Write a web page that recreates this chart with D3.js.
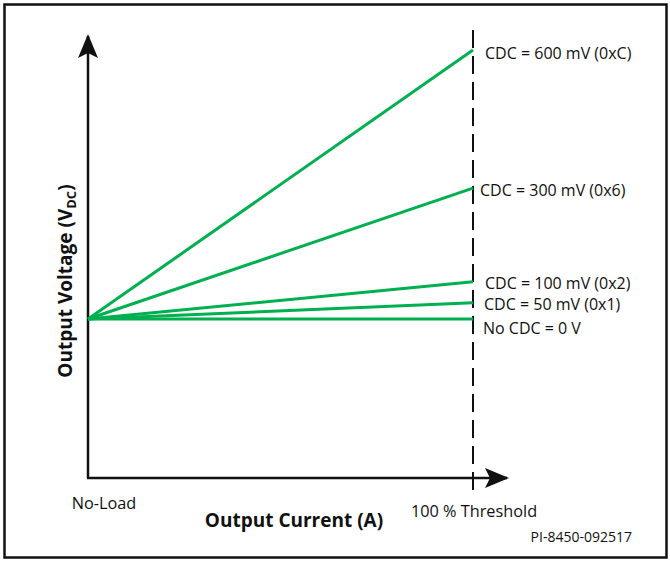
<!DOCTYPE html>
<meta charset="utf-8">
<title>CDC output voltage vs output current</title>
<script src="https://d3js.org/d3.v7.min.js"></script>
<style>
  body { margin: 0; background: #fff; }
  text { font-family: "Open Sans", "Noto Sans", sans-serif; fill: #111; }
</style>
<body>
<svg class="chart"></svg>
<script>

var width = 670;
var height = 561;

// series: CDC label, setting in mV, rise of the line at 100 % load (mV scale)
var cdcLabels = ["CDC = 600 mV (0xC)", "CDC = 300 mV (0x6)", "CDC = 100 mV (0x2)", "CDC = 50 mV (0x1)", "No CDC = 0 V"];
var cdcSetting = [600, 300, 100, 50, 0];
var cdcRise = [600, 292, 83, 36, 0];
var loadPoints = [0, 100];           // % of threshold
var xTickLabels = ["No-Load", "100 % Threshold"];

var svg = d3.select(".chart")
  .attr("width", width)
  .attr("height", height);

// frame
svg.append("rect")
  .attr("x", 4.5).attr("y", 4.5)
  .attr("width", 662).attr("height", 553)
  .attr("fill", "none")
  .attr("stroke", "#111")
  .attr("stroke-width", 2.5);

var x = d3.scaleLinear().domain([0, 100]).range([88, 473]);
var y = d3.scaleLinear().domain([0, 600]).range([319, 50]);

var axisY = 478;
var defs = svg.append("defs");
defs.append("marker")
  .attr("id", "arrow")
  .attr("viewBox", "0 0 24 20")
  .attr("refX", 22).attr("refY", 10)
  .attr("markerWidth", 24).attr("markerHeight", 20)
  .attr("markerUnits", "userSpaceOnUse")
  .attr("orient", "auto")
  .append("path")
    .attr("d", "M0,0 L24,10 L0,20 L5,10 Z")
    .attr("fill", "#111");

// axes
svg.append("line")
  .attr("x1", x(0)).attr("y1", axisY)
  .attr("x2", x(0)).attr("y2", 36)
  .attr("stroke", "#111").attr("stroke-width", 2.5)
  .attr("marker-end", "url(#arrow)");
svg.append("line")
  .attr("x1", x(0) - 1).attr("y1", axisY)
  .attr("x2", 507).attr("y2", axisY)
  .attr("stroke", "#111").attr("stroke-width", 2.5)
  .attr("marker-end", "url(#arrow)");

// threshold line
svg.append("line")
  .attr("x1", x(100)).attr("y1", 30)
  .attr("x2", x(100)).attr("y2", 496)
  .attr("stroke", "#111").attr("stroke-width", 2)
  .attr("stroke-dasharray", "18,8");

// CDC lines
var line = d3.line()
  .x(function(d) { return x(d[0]); })
  .y(function(d) { return y(d[1]); });

svg.selectAll(".cdc")
  .data(cdcRise)
  .enter().append("path")
    .attr("class", "cdc")
    .attr("d", function(r) { return line(loadPoints.map(function(p) { return [p, r * p / 100]; })); })
    .attr("fill", "none")
    .attr("stroke", "#00b050")
    .attr("stroke-width", 3);

// CDC labels
var labelDx = [12, 7, 12, 11, 10];
var labelDy = [9, 8, 7, 7, 15];
svg.selectAll(".cdc-label")
  .data(cdcLabels)
  .enter().append("text")
    .attr("class", "cdc-label")
    .attr("x", function(d, i) { return x(100) + labelDx[i]; })
    .attr("y", function(d, i) { return y(cdcRise[i]) + labelDy[i]; })
    .style("font-size", "16px")
    .text(function(d) { return d; });

// x tick labels
svg.selectAll(".xtick")
  .data(xTickLabels)
  .enter().append("text")
    .attr("class", "xtick")
    .attr("x", function(d, i) { return x(loadPoints[i]) + (i == 0 ? 16 : 1); })
    .attr("y", function(d, i) { return i == 0 ? 509 : 517; })
    .attr("text-anchor", "middle")
    .style("font-size", "16.3px")
    .text(function(d) { return d; });

// axis titles
svg.append("text")
  .attr("x", 294).attr("y", 527)
  .attr("text-anchor", "middle")
  .style("font-size", "19px")
  .style("font-weight", "bold")
  .text("Output Current (A)");

var yt = svg.append("text")
  .attr("transform", "translate(72,281) rotate(-90)")
  .attr("text-anchor", "middle")
  .style("font-size", "19px")
  .style("font-weight", "bold");
yt.append("tspan").text("Output Voltage (V");
yt.append("tspan").attr("dy", 4).style("font-size", "13px").text("DC");
yt.append("tspan").attr("dy", -4).text(")");

svg.append("text")
  .attr("x", 632).attr("y", 542)
  .attr("text-anchor", "end")
  .style("font-size", "14px")
  .text("PI-8450-092517");

</script>
</body>
